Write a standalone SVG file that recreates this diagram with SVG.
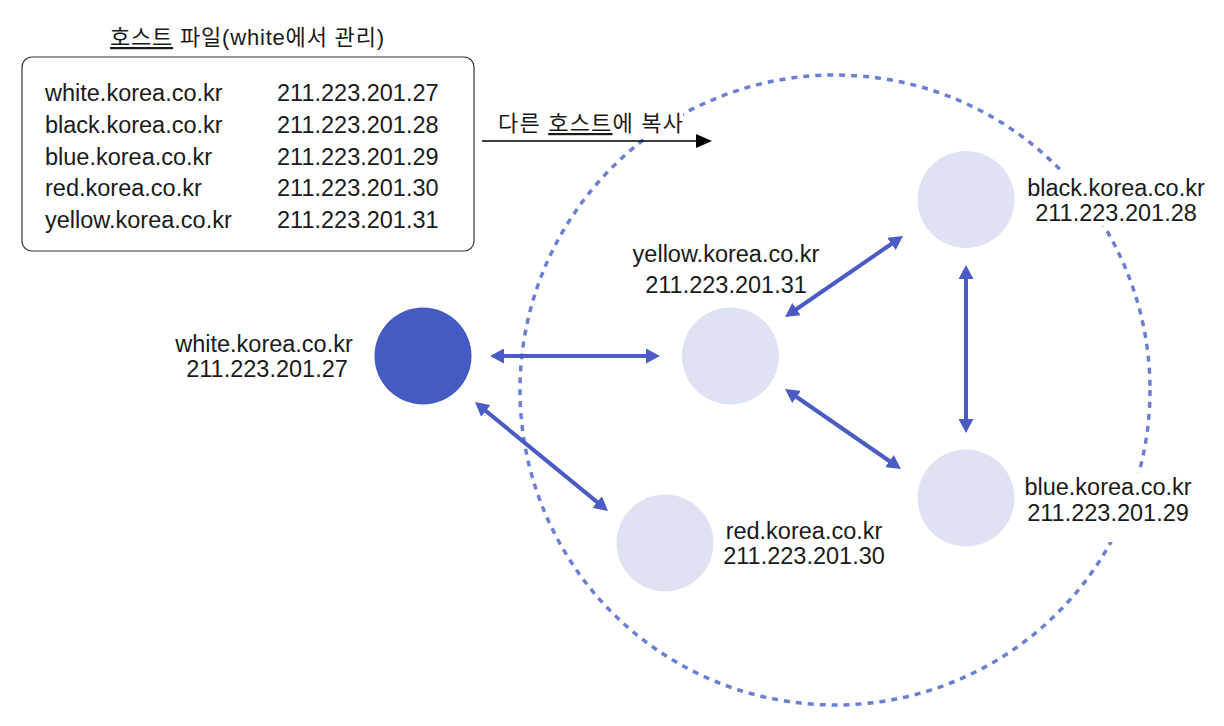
<svg xmlns="http://www.w3.org/2000/svg" width="1224" height="726" viewBox="0 0 1224 726">
<defs>
<style>
text{font-family:"Liberation Sans","Noto Sans CJK KR",Arial,sans-serif;fill:#1a1a1a}
.t{font-size:23.5px}
.k{font-size:22px;letter-spacing:0.8px}
.u{text-decoration:underline}
.c{text-anchor:middle}
.lbg{fill:#ffffff}
.conn{stroke:#4a5cc4;stroke-width:4;fill:none;marker-start:url(#ah);marker-end:url(#ah)}
.light{fill:#dfe2f3}
.dark{fill:#465bc1}
</style>
<marker id="ah" viewBox="0 0 14 15" refX="6" refY="7.5" markerWidth="14" markerHeight="15" markerUnits="userSpaceOnUse" orient="auto-start-reverse">
<path d="M0,0 L14,7.5 L0,15 z" fill="#4a5cc4"/>
</marker>
<marker id="bh" viewBox="0 0 16 14" refX="10" refY="7" markerWidth="16" markerHeight="14" markerUnits="userSpaceOnUse" orient="auto">
<path d="M0,0 L16,7 L0,14 z" fill="#000"/>
</marker>
</defs>
<rect width="1224" height="726" fill="#fff"/>

<g id="area">
<circle cx="835" cy="390" r="315" fill="none" stroke="#6c7fd3" stroke-width="3.5" stroke-dasharray="6 6"/>
</g>

<g id="label-backgrounds">
<rect class="lbg" x="494" y="98" width="189" height="41"/>
<rect class="lbg" x="1020" y="170" width="192" height="56"/>
<rect class="lbg" x="1015" y="473" width="185" height="69"/>
</g>

<g id="hosts-file">
<text class="k" x="110" y="45"><tspan class="u">호스트</tspan> 파일(white에서 관리)</text>
<rect x="22" y="57" width="452" height="194" rx="10" fill="#fff" stroke="#333" stroke-width="1.2"/>
<text class="t" x="45" y="101">white.korea.co.kr</text>
<text class="t" x="45" y="132.75">black.korea.co.kr</text>
<text class="t" x="45" y="164.5">blue.korea.co.kr</text>
<text class="t" x="45" y="196.25">red.korea.co.kr</text>
<text class="t" x="45" y="228">yellow.korea.co.kr</text>
<text class="t" x="277" y="101">211.223.201.27</text>
<text class="t" x="277" y="132.75">211.223.201.28</text>
<text class="t" x="277" y="164.5">211.223.201.29</text>
<text class="t" x="277" y="196.25">211.223.201.30</text>
<text class="t" x="277" y="228">211.223.201.31</text>
</g>

<g id="copy">
<text class="k" x="498" y="131" style="letter-spacing:1.2px">다른 <tspan class="u">호스트</tspan>에 복사</text>
<line x1="482" y1="141" x2="706" y2="141" stroke="#000" stroke-width="1.5" marker-end="url(#bh)"/>
</g>

<g id="connectors">
<line class="conn" x1="498" y1="356" x2="652" y2="356"/>
<line class="conn" x1="481.2" y1="407.1" x2="601.8" y2="505.9"/>
<line class="conn" x1="791.6" y1="312.5" x2="896.4" y2="240.5"/>
<line class="conn" x1="791.6" y1="393.5" x2="894.4" y2="464.5"/>
<line class="conn" x1="966" y1="273" x2="966" y2="425"/>
</g>

<g id="node-white">
<circle class="dark" cx="423" cy="356" r="48.5"/>
<text class="t c" x="264" y="352">white.korea.co.kr</text>
<text class="t c" x="267" y="377">211.223.201.27</text>
</g>

<g id="node-yellow">
<circle class="light" cx="730.5" cy="356" r="48.5"/>
<text class="t c" x="726" y="261.5">yellow.korea.co.kr</text>
<text class="t c" x="726" y="293">211.223.201.31</text>
</g>

<g id="node-red">
<circle class="light" cx="665" cy="543" r="48.5"/>
<text class="t c" x="804" y="539">red.korea.co.kr</text>
<text class="t c" x="804" y="564">211.223.201.30</text>
</g>

<g id="node-black">
<circle class="light" cx="966" cy="199.5" r="48.5"/>
<text class="t c" x="1116" y="196">black.korea.co.kr</text>
<text class="t c" x="1116" y="221">211.223.201.28</text>
</g>

<g id="node-blue">
<circle class="light" cx="966" cy="498" r="48.5"/>
<text class="t c" x="1108" y="495">blue.korea.co.kr</text>
<text class="t c" x="1108" y="520.5">211.223.201.29</text>
</g>
</svg>
